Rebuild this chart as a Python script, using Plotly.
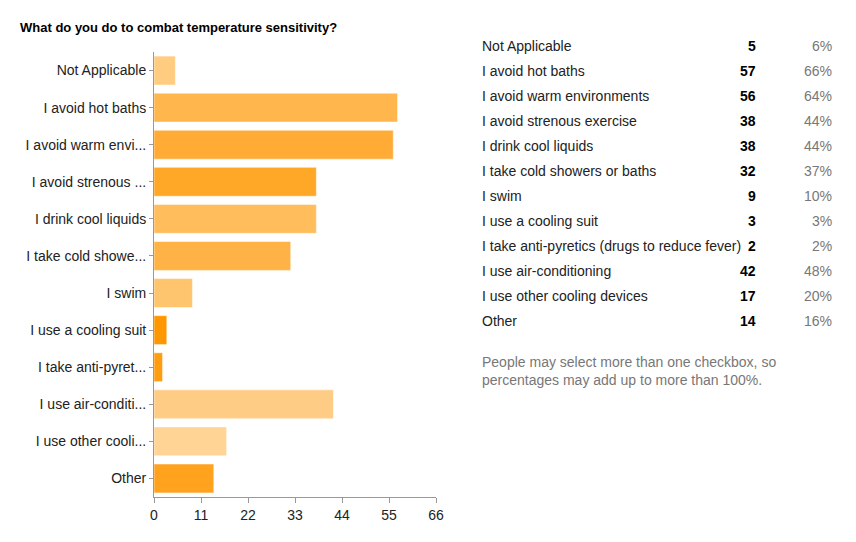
import plotly.graph_objects as go

categories = ["Not Applicable", "I avoid hot baths", "I avoid warm environments",
              "I avoid strenous exercise", "I drink cool liquids", "I take cold showers or baths",
              "I swim", "I use a cooling suit", "I take anti-pyretics (drugs to reduce fever)",
              "I use air-conditioning", "I use other cooling devices", "Other"]
short_labels = ["Not Applicable", "I avoid hot baths", "I avoid warm envi...",
                "I avoid strenous ...", "I drink cool liquids", "I take cold showe...",
                "I swim", "I use a cooling suit", "I take anti-pyret...",
                "I use air-conditi...", "I use other cooli...", "Other"]
counts = [5, 57, 56, 38, 38, 32, 9, 3, 2, 42, 17, 14]
percents = ["6%", "66%", "64%", "44%", "44%", "37%", "10%", "3%", "2%", "48%", "20%", "16%"]
colors = ["#ffcc80", "#ffb74d", "#ffab36", "#ffa726", "#ffbd5c", "#ffb347",
          "#ffc46e", "#ff9800", "#ff9c10", "#ffcc85", "#ffd494", "#ffa21e"]
ticks = [0, 11, 22, 33, 44, 55, 66]

# the page adds an 8px body margin, so everything is placed 8px up/left
OFF = 8
W, H = 856, 542
L, R, T, B = 154 - OFF, 436 - OFF, 52 - OFF, 497 - OFF


def px_x(p):
    return (p - OFF - L) / (R - L)


def px_y(p):
    return (B - (p - OFF)) / (B - T)


fig = go.Figure(go.Bar(
    x=counts, y=short_labels, orientation="h",
    marker=dict(color=colors, line=dict(color="rgba(255,255,255,0.5)", width=1)),
    width=0.78, hoverinfo="x+y",
))

font = dict(family="Liberation Sans, Arial, sans-serif", size=14, color="#222222")
ann = [dict(text="<b>What do you do to combat temperature sensitivity?</b>", x=px_x(18), y=px_y(28),
            xanchor="left", yanchor="middle", font=dict(font, size=13, color="#000000"))]
for i, (c, n, p) in enumerate(zip(categories, counts, percents)):
    yy = px_y(46 + 25 * i)
    ann.append(dict(text=c, x=px_x(480), y=yy, xanchor="left", yanchor="middle", font=font))
    ann.append(dict(text=f"<b>{n}</b>", x=px_x(758), y=yy, xanchor="right", yanchor="middle",
                    font=dict(font, color="#000000")))
    ann.append(dict(text=p, x=px_x(834), y=yy, xanchor="right", yanchor="middle",
                    font=dict(font, color="#777777")))
ann.append(dict(text="People may select more than one checkbox, so<br>percentages may add up to more than 100%.",
                x=px_x(480), y=px_y(371), xanchor="left", yanchor="middle", align="left",
                font=dict(font, color="#777777")))
for a in ann:
    a.update(xref="paper", yref="paper", showarrow=False)

fig.update_layout(
    width=W, height=H,
    margin=dict(l=L, r=W - R, t=T, b=H - B),
    paper_bgcolor="white", plot_bgcolor="white",
    font=font, showlegend=False, annotations=ann,
    xaxis=dict(range=[0, 66], tickvals=ticks, showgrid=False, zeroline=False,
               showline=True, linecolor="#999999", ticks="outside", tickcolor="#999999",
               ticklen=5, tickfont=dict(size=14, color="#222222")),
    yaxis=dict(autorange="reversed", showgrid=False, showline=True, linecolor="#999999",
               ticks="outside", tickcolor="#999999", ticklen=4,
               tickfont=dict(size=14, color="#222222")),
)

fig.write_html("out.html")
